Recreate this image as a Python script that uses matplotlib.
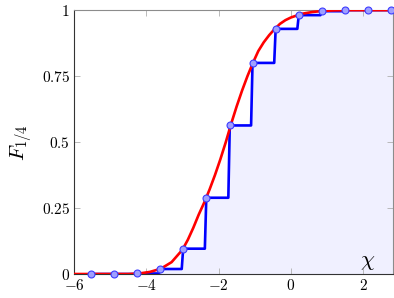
import matplotlib
matplotlib.use('Agg')
import matplotlib.pyplot as plt

plt.rcParams['mathtext.fontset'] = 'cm'
plt.rcParams['font.family'] = 'serif'
plt.rcParams['font.serif'] = ['DejaVu Serif']

# sample points (blue steps + markers)
pts_x = [-5.52, -4.89, -4.26, -3.61, -2.98, -2.34, -1.69, -1.06, -0.42, 0.22, 0.86, 1.50, 2.14, 2.78]
pts_y = [0.0, 0.0, 0.002, 0.019, 0.096, 0.289, 0.563, 0.800, 0.929, 0.981, 0.996, 1.0, 1.0, 1.0]

# smooth curve (red)
curve_x = [-6.0, -4.5, -4.2, -3.9, -3.6, -3.3, -3.0, -2.85, -2.7, -2.55, -2.4, -2.25, -2.1, -1.95,
           -1.8, -1.65, -1.5, -1.35, -1.2, -1.05, -0.9, -0.75, -0.6, -0.45, -0.3, -0.15, 0.0,
           0.3, 0.6, 0.9, 1.2, 1.5, 2.8]
curve_y = [0.0, 0.0, 0.002, 0.008, 0.02, 0.045, 0.092, 0.13, 0.175, 0.225, 0.27, 0.32, 0.375, 0.435,
           0.50, 0.57, 0.635, 0.695, 0.75, 0.80, 0.845, 0.878, 0.905, 0.928, 0.948, 0.962, 0.972,
           0.986, 0.993, 0.997, 0.999, 1.0, 1.0]

xmin, xmax = -6, 2.82

# step path with slightly tilted risers
sx, sy = [pts_x[0]], [pts_y[0]]
for i in range(1, len(pts_x)):
    sx += [pts_x[i] - 0.04, pts_x[i]]
    sy += [pts_y[i - 1], pts_y[i]]
sx.append(xmax)
sy.append(pts_y[-1])

fig = plt.figure(figsize=(3.94, 2.98), dpi=100)
ax = fig.add_axes([0.188, 0.0805, 0.8087, 0.8855])

ax.fill_between(sx, 0, sy, color='#f0f0ff', lw=0, zorder=1)
ax.plot(sx, sy, color='#0000ff', lw=1.9, zorder=2)
ax.plot(curve_x, curve_y, color='#ff0000', lw=1.9, zorder=3)
ax.plot(pts_x, pts_y, 'o', ms=5, mfc='#9f9fff', mec='#3c3cff', mew=0.8, zorder=4, clip_on=False)

ax.set_xlim(xmin, xmax)
ax.set_ylim(0, 1)
ax.set_xticks([-6, -4, -2, 0, 2])
ax.set_xticklabels(['$-6$', '$-4$', '$-2$', '$0$', '$2$'])
ax.set_yticks([0, 0.25, 0.5, 0.75, 1])
ax.set_yticklabels(['$0$', '$0.25$', '$0.5$', '$0.75$', '$1$'])
ax.tick_params(direction='in', length=4, width=0.6, color='#b0b0b0', labelsize=11,
               top=True, right=True, pad=3)

for s in ['left', 'bottom']:
    ax.spines[s].set_color('#333333')
    ax.spines[s].set_linewidth(0.8)
for s in ['top', 'right']:
    ax.spines[s].set_color('#8c8c8c')
    ax.spines[s].set_linewidth(0.8)

ax.set_ylabel('$F_{1/4}$', fontsize=15, labelpad=5)
ax.text(2.12, 0.05, r'$\chi$', fontsize=16, ha='center', va='center')

fig.savefig('out.png', dpi=100)
